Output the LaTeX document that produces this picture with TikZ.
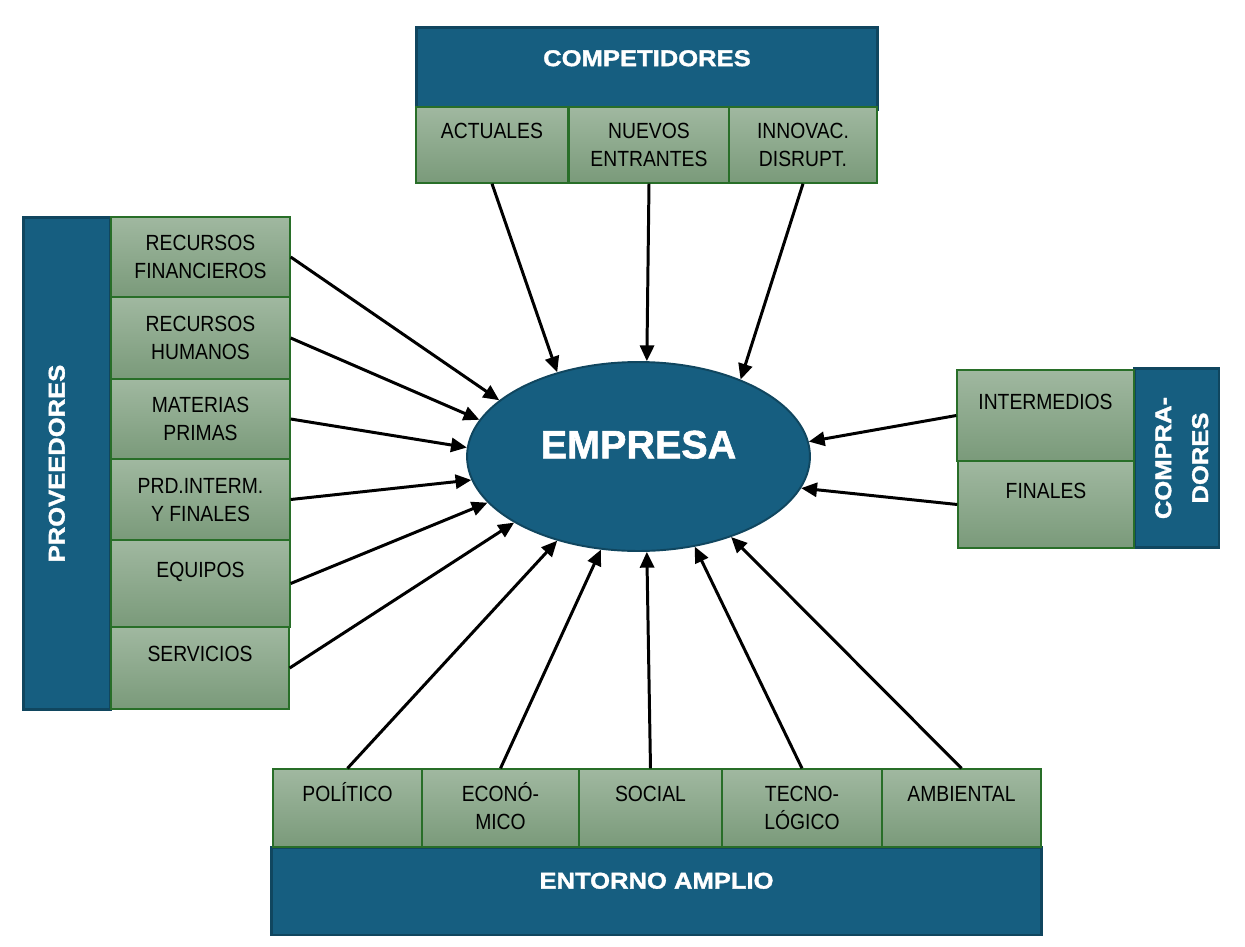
\documentclass[tikz,border=0pt]{standalone}
\usepackage{fontspec}
\setmainfont{Liberation Sans}
\newfontfamily\boxfont[FakeStretch=0.88]{Liberation Sans}
\newfontfamily\headfont[FakeStretch=1.12,FakeBold=1.5]{Liberation Sans}
\newfontfamily\empfont[FakeBold=1.5]{Liberation Sans}
\usetikzlibrary{arrows.meta,shapes.geometric}
\definecolor{darkblue}{RGB}{22,94,128}
\definecolor{blueline}{RGB}{16,70,95}
\definecolor{greentop}{RGB}{160,184,160}
\definecolor{greenbot}{RGB}{122,154,122}
\definecolor{greenline}{RGB}{40,110,40}

\begin{document}
\begin{tikzpicture}
  [x=0.02cm,y=-0.02cm,
   hdr/.style={draw=blueline,line width=1.7pt,fill=darkblue,text=white,
     font=\headfont\bfseries\fontsize{13}{21}\selectfont,align=center,
     text height=9.3pt,text depth=12pt,inner sep=0pt},
   sub/.style={draw=greenline,line width=0.8pt,top color=greentop,bottom color=greenbot,
     font=\boxfont\fontsize{12.5}{16}\selectfont,align=center,
     text height=25pt,text depth=0pt,inner sep=0pt},
   one/.style={text height=9pt,text depth=16pt},
   arr/.style={line width=1.7pt,-{Triangle[length=9pt,width=8pt]}}]
  \useasboundingbox (0,0) rectangle (1245,947);

  \node[hdr,minimum width=9.24cm,minimum height=1.66cm] (comp) at (647,68.5) {COMPETIDORES};
  \node[sub,one,minimum width=3.04cm,minimum height=1.52cm] (act) at (492,145) {ACTUALES};
  \node[sub,minimum width=3.2cm,minimum height=1.52cm] (nue) at (649,145) {NUEVOS\\ENTRANTES};
  \node[sub,minimum width=2.96cm,minimum height=1.52cm] (inn) at (803,145) {INNOVAC.\\DISRUPT.};

  \node[hdr,rotate=90,minimum width=9.86cm,minimum height=1.76cm] (prov) at (67,463.5) {PROVEEDORES};
  \node[sub,minimum width=3.58cm,minimum height=1.6cm] (rf) at (200.5,257) {RECURSOS\\FINANCIEROS};
  \node[sub,minimum width=3.58cm,minimum height=1.64cm] (rh) at (200.5,338) {RECURSOS\\HUMANOS};
  \node[sub,minimum width=3.58cm,minimum height=1.6cm] (mp) at (200.5,419) {MATERIAS\\PRIMAS};
  \node[sub,minimum width=3.58cm,minimum height=1.62cm] (pi) at (200.5,499.5) {PRD.INTERM.\\Y FINALES};
  \node[sub,one,minimum width=3.58cm,minimum height=1.74cm] (eq) at (200.5,583.5) {EQUIPOS};
  \node[sub,one,minimum width=3.56cm,minimum height=1.64cm] (sv) at (200,668) {SERVICIOS};

  \node[hdr,rotate=90,minimum width=3.6cm,minimum height=1.7cm,text height=35.9pt,text depth=0pt] (compr) at (1176.5,458) {COMPRA-\\DORES};
  \node[sub,one,minimum width=3.54cm,minimum height=1.82cm] (int) at (1045.5,415.5) {INTERMEDIOS};
  \node[sub,one,minimum width=3.52cm,minimum height=1.74cm] (fin) at (1046,504.5) {FINALES};

  \node[hdr,minimum width=15.42cm,minimum height=1.76cm] (ent) at (656.5,891) {ENTORNO AMPLIO};
  \node[sub,one,minimum width=2.98cm,minimum height=1.56cm] (pol) at (347.5,808) {POLÍTICO};
  \node[sub,minimum width=3.14cm,minimum height=1.56cm] (eco) at (500.5,808) {ECONÓ-\\MICO};
  \node[sub,one,minimum width=2.86cm,minimum height=1.56cm] (soc) at (650.5,808) {SOCIAL};
  \node[sub,minimum width=3.2cm,minimum height=1.56cm] (tec) at (802,808) {TECNO-\\LÓGICO};
  \node[sub,one,minimum width=3.18cm,minimum height=1.56cm] (amb) at (961.5,808) {AMBIENTAL};

  \node[ellipse,draw=blueline,line width=1.1pt,fill=darkblue,text=white,inner sep=0pt,
    minimum width=6.86cm,minimum height=3.78cm,font=\empfont\bfseries\fontsize{22.5}{26}\selectfont,
    text height=16pt,text depth=14pt] (emp) at (638.5,456.5) {EMPRESA};

  \foreach \from/\ang in {act.south/134,nue.south/85,inn.south/37,rf.east/158,rh.east/167,
      mp.east/177,pi.east/188,eq.east/197,sv.east/208,int.west/5,fin.west/349,
      pol.north/226,eco.north/248,soc.north/275,tec.north/302,amb.north/319}
    \draw[arr] (\from) -- (emp.\ang);
\end{tikzpicture}
\end{document}
